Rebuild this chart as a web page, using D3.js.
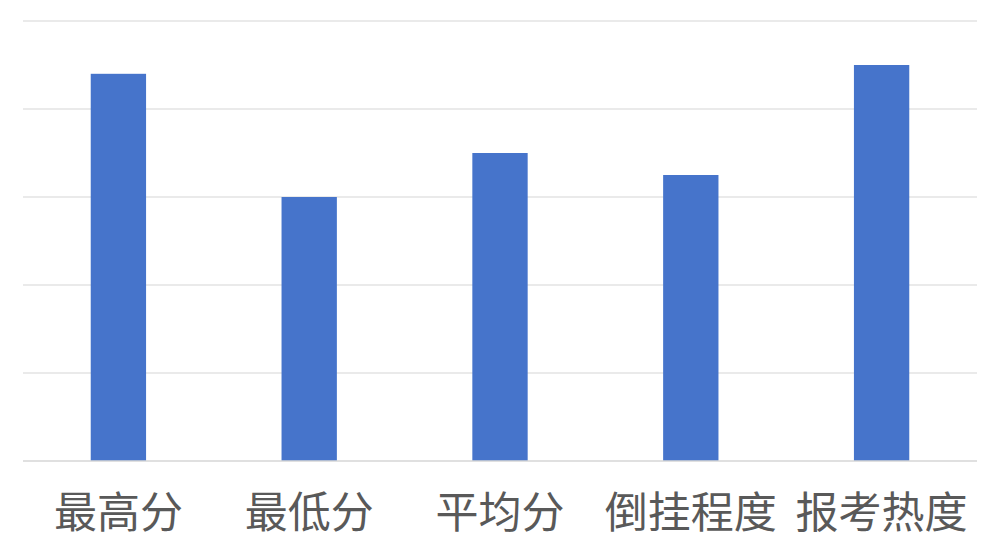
<!DOCTYPE html>
<html><head><meta charset="utf-8">
<script src="https://cdn.jsdelivr.net/npm/d3@7"></script>
<style>html,body{margin:0;padding:0;background:#fff;}</style>
</head><body>
<svg id="c" width="1006" height="556"></svg>
<script>
const categories = ["最高分", "最低分", "平均分", "倒挂程度", "报考热度"];
const values = [4.4, 3.0, 3.5, 3.25, 4.5];
const yTicks = [0, 1, 2, 3, 4, 5];

const W = 1006, H = 556;
const m = {left: 23, right: 29, top: 21, bottom: 95};
const svg = d3.select("#c");
const x = d3.scaleBand().domain(categories).range([m.left, W - m.right]).paddingInner(0.71).paddingOuter(0.355);
const y = d3.scaleLinear().domain([0, 5]).range([H - m.bottom, m.top]);

svg.append("g").selectAll("line").data(yTicks.filter(t => t > 0)).join("line")
  .attr("x1", m.left).attr("x2", W - m.right)
  .attr("y1", d => y(d)).attr("y2", d => y(d))
  .attr("stroke", "#e3e3e3").attr("stroke-width", 1.5);

svg.append("g").selectAll("rect").data(values).join("rect")
  .attr("x", (d, i) => x(categories[i]))
  .attr("width", x.bandwidth())
  .attr("y", d => y(d))
  .attr("height", d => y(0) - y(d))
  .attr("fill", "#4674CB");

svg.append("line").attr("x1", m.left).attr("x2", W - m.right)
  .attr("y1", y(0)).attr("y2", y(0)).attr("stroke", "#d6d6d6").attr("stroke-width", 1.5);

svg.append("g").selectAll("text").data(categories).join("text")
  .attr("x", d => x(d) + x.bandwidth() / 2)
  .attr("y", y(0) + 55)
  .attr("text-anchor", "middle")
  .attr("dominant-baseline", "middle")
  .attr("font-family", "'Noto Sans CJK SC', sans-serif")
  .attr("font-size", 43)
  .attr("fill", "#595959")
  .text(d => d);
</script>
</body></html>
